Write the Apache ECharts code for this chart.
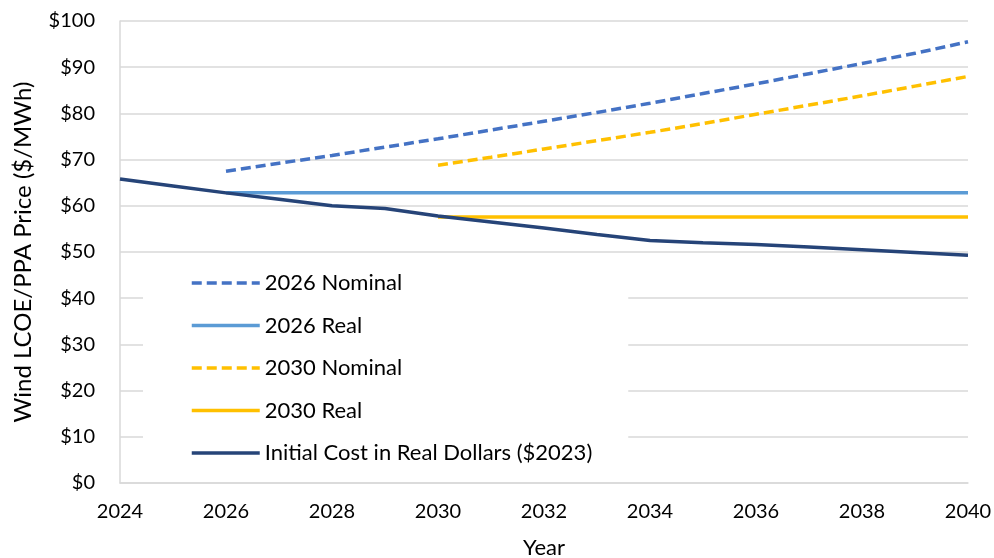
<!DOCTYPE html>
<html lang="en">
<head>
  <meta charset="UTF-8">
  <title>Wind LCOE/PPA Price</title>
  <style>
    * { margin: 0; padding: 0; }
    body { background-color: #ffffff; }
    #main { width: 994px; height: 558px; }
  </style>
</head>
<body>
  <div id="main"></div>
  <script src="https://cdn.jsdelivr.net/npm/echarts@6/dist/echarts.min.js"></script>
  <script>
    // values ($/MWh)
    var years = [2024, 2025, 2026, 2027, 2028, 2029, 2030, 2031, 2032, 2033, 2034, 2035, 2036, 2037, 2038, 2039, 2040];
    var initialCost = [65.8, 64.3, 62.8, 61.4, 60.0, 59.4, 57.8, 56.5, 55.2, 53.8, 52.5, 52.0, 51.6, 51.1, 50.5, 49.9, 49.3];
    var nominal2026 = [null, null, 67.5, 69.2, 70.9, 72.7, 74.5, 76.4, 78.3, 80.2, 82.2, 84.3, 86.4, 88.6, 90.8, 93.0, 95.5];
    var real2026 = [null, null, 62.8, 62.8, 62.8, 62.8, 62.8, 62.8, 62.8, 62.8, 62.8, 62.8, 62.8, 62.8, 62.8, 62.8, 62.8];
    var nominal2030 = [null, null, null, null, null, null, 68.8, 70.5, 72.3, 74.1, 75.9, 77.8, 79.8, 81.8, 83.8, 85.9, 88.0];
    var real2030 = [null, null, null, null, null, null, 57.6, 57.6, 57.6, 57.6, 57.6, 57.6, 57.6, 57.6, 57.6, 57.6, 57.6];

    var font = 'Lato, "Noto Sans", sans-serif';

    function pairs(vals) {
      var out = [];
      for (var i = 0; i < years.length; i++) {
        if (vals[i] != null) out.push([years[i], vals[i]]);
      }
      return out;
    }

    function makeLine(name, vals, color, dashed) {
      return {
        name: name,
        type: 'line',
        symbol: 'none',
        data: pairs(vals),
        lineStyle: { color: color, width: 3.5, type: dashed ? [10, 5] : 'solid' },
        itemStyle: { color: color }
      };
    }

    var myChart = echarts.init(document.getElementById('main'));
    var option = {
      animation: false,
      textStyle: { fontFamily: font },
      grid: { left: 120, right: 26, top: 21, bottom: 75, outerBoundsMode: 'none' },
      legend: {
        orient: 'vertical',
        left: 143,
        top: 260,
        padding: [11, 36, 8, 47],
        backgroundColor: '#ffffff',
        itemWidth: 68,
        itemHeight: 14,
        itemGap: 18.5,
        itemTextGap: 7,
        itemStyle: { opacity: 0 },
        lineStyle: { width: 3.5 },
        textStyle: { fontFamily: font, fontSize: 22, color: '#000000', lineHeight: 24 },
        data: ['2026 Nominal', '2026 Real', '2030 Nominal', '2030 Real', 'Initial Cost in Real Dollars ($2023)']
      },
      xAxis: {
        type: 'value',
        min: 2024,
        max: 2040,
        interval: 2,
        name: 'Year',
        nameLocation: 'middle',
        nameGap: 54,
        nameTextStyle: { fontFamily: font, fontSize: 22, color: '#000000' },
        axisLine: { lineStyle: { color: '#d9d9d9', width: 1.5 } },
        axisTick: { show: false },
        splitLine: { show: false },
        axisLabel: {
          fontFamily: font, fontSize: 20, color: '#000000', margin: 19,
          formatter: function (v) { return String(v); }
        }
      },
      yAxis: {
        type: 'value',
        min: 0,
        max: 100,
        interval: 10,
        name: 'Wind LCOE/PPA Price ($/MWh)',
        nameLocation: 'middle',
        nameGap: 85,
        nameTextStyle: { fontFamily: font, fontSize: 24, color: '#000000' },
        axisLine: { show: true, lineStyle: { color: '#d9d9d9', width: 1.5 } },
        axisTick: { show: false },
        splitLine: { lineStyle: { color: '#d9d9d9', width: 1.5 } },
        axisLabel: {
          fontFamily: font, fontSize: 20, color: '#000000', margin: 25,
          formatter: function (v) { return '$' + v; }
        }
      },
      series: [
        makeLine('2026 Nominal', nominal2026, '#4472C4', true),
        makeLine('2026 Real', real2026, '#5B9BD5', false),
        makeLine('2030 Nominal', nominal2030, '#FFC000', true),
        makeLine('2030 Real', real2030, '#FFC000', false),
        makeLine('Initial Cost in Real Dollars ($2023)', initialCost, '#264478', false)
      ]
    };
    myChart.setOption(option);
  </script>
</body>
</html>
